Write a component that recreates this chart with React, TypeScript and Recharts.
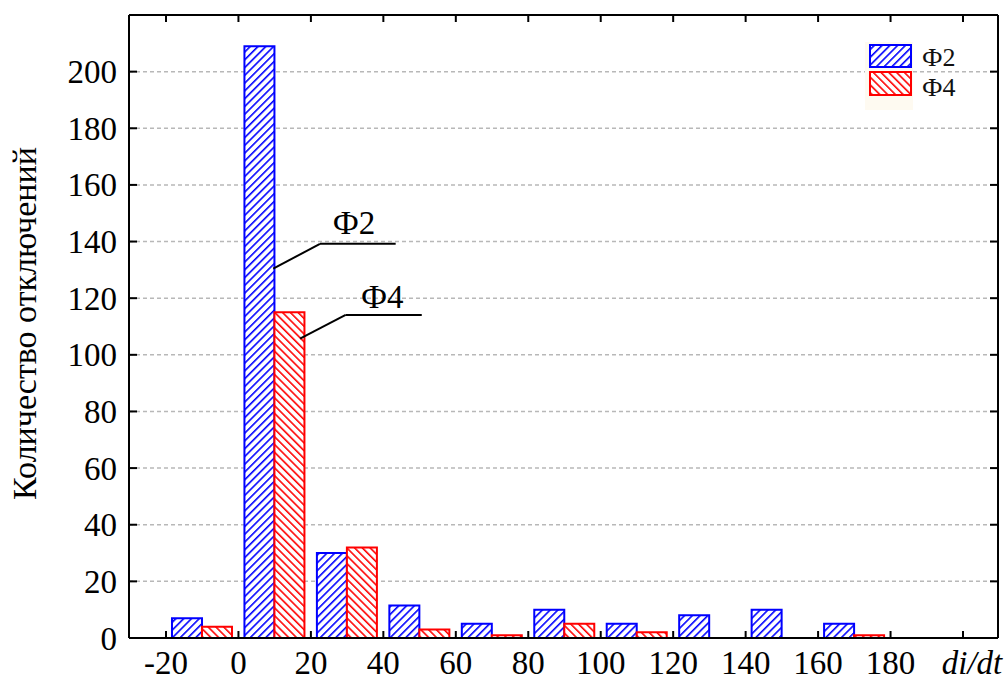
import {
  BarChart,
  Bar,
  XAxis,
  YAxis,
  CartesianGrid,
  Legend,
  ReferenceLine,
  ReferenceDot,
} from 'recharts'

// lower edge of each di/dt bin, bins are 20 wide
const binStarts = [-20, 0, 20, 40, 60, 80, 100, 120, 140, 160, 180]
const f2Values = [7, 209, 30, 11.5, 5, 10, 5, 8, 10, 5, 0]
const f4Values = [4, 115, 32, 3, 1, 5, 2, 0, 0, 1, 0]
const xTicks = [-20, 0, 20, 40, 60, 80, 100, 120, 140, 160, 180, 200]
const yTicks = [0, 20, 40, 60, 80, 100, 120, 140, 160, 180, 200]

// callouts in data units: text anchor, elbow of leader, end of shelf, point on bar
const callouts = [
  { name: 'Ф2', text: [26, 142.5], elbow: [22.5, 139.2], shelf: 43.4, tip: [9.6, 130.4] },
  { name: 'Ф4', text: [33.8, 116.7], elbow: [29.6, 114.1], shelf: 50.6, tip: [17, 105.7] },
]

const FONT = '"Liberation Serif", "Times New Roman", serif'
const BLUE = '#0000ff'
const RED = '#ff0000'
const X_DOMAIN = [-30.21, 209.66]

const data = binStarts.map((start, i) => ({ mid: start + 10, f2: f2Values[i], f4: f4Values[i] }))

const LeftTick = ({ x, y, payload }: any) => (
  <g>
    <line x1={x} x2={x + 8} y1={y} y2={y} stroke="#000" strokeWidth={2} />
    <text x={x - 12} y={y} dy="0.35em" textAnchor="end" fontSize={33} fontFamily={FONT} fill="#000">
      {payload.value}
    </text>
  </g>
)

const RightTick = ({ x, y }: any) => (
  <line x1={x - 8} x2={x} y1={y} y2={y} stroke="#000" strokeWidth={2} />
)

const TopTick = ({ x, y }: any) => (
  <line x1={x} x2={x} y1={y} y2={y + 7} stroke="#000" strokeWidth={2} />
)

const BottomTick = ({ x, y, payload }: any) => {
  const last = payload.value === 200
  return (
    <g>
      <line x1={x} x2={x} y1={y - 7} y2={y} stroke="#000" strokeWidth={2} />
      <text
        x={last ? x + 9 : x}
        y={y + 36}
        textAnchor="middle"
        fontSize={33}
        fontStyle={last ? 'italic' : 'normal'}
        fontFamily={FONT}
        fill="#000"
      >
        {last ? 'di/dt' : payload.value}
      </text>
    </g>
  )
}

const renderLegend = () => (
  <svg width={120} height={75}>
    <rect x={2} y={2} width={48} height={68} fill="#fefaf1" />
    <rect x={7} y={5} width={41} height={22} fill="url(#hatchBlue)" stroke={BLUE} strokeWidth={2} />
    <rect x={7} y={32} width={41} height={23} fill="url(#hatchRed)" stroke={RED} strokeWidth={2} />
    <text x={59} y={26} fontSize={26} fontFamily={FONT} fill="#111">Ф2</text>
    <text x={59} y={56} fontSize={26} fontFamily={FONT} fill="#111">Ф4</text>
  </svg>
)

export default function App() {
  return (
    <>
      <style>{'body { margin: 0; }'}</style>
      <BarChart
        width={1006}
        height={682}
        data={data}
        margin={{ top: 8, right: 0, bottom: 0, left: 0 }}
        barSize={30}
        barGap={0}
      >
        <defs>
          <pattern id="hatchBlue" patternUnits="userSpaceOnUse" width={5.5} height={5.5} patternTransform="rotate(45)">
            <rect width={5.5} height={5.5} fill="#fff" />
            <line x1={0} y1={0} x2={0} y2={5.5} stroke={BLUE} strokeWidth={3.2} />
          </pattern>
          <pattern id="hatchRed" patternUnits="userSpaceOnUse" width={5.5} height={5.5} patternTransform="rotate(-45)">
            <rect width={5.5} height={5.5} fill="#fff" />
            <line x1={0} y1={0} x2={0} y2={5.5} stroke={RED} strokeWidth={3.2} />
          </pattern>
        </defs>
        <CartesianGrid
          xAxisId="num"
          yAxisId="left"
          vertical={false}
          stroke="#b8b8b8"
          strokeDasharray="4 3"
          strokeWidth={1.5}
        />
        <XAxis
          xAxisId="num"
          dataKey="mid"
          type="number"
          domain={X_DOMAIN}
          allowDataOverflow
          ticks={xTicks}
          interval={0}
          height={44}
          tickSize={0}
          tickMargin={0}
          tickLine={false}
          axisLine={{ stroke: '#000', strokeWidth: 2 }}
          tick={<BottomTick />}
        />
        <XAxis
          xAxisId="top"
          dataKey="mid"
          orientation="top"
          type="number"
          domain={X_DOMAIN}
          allowDataOverflow
          ticks={xTicks}
          interval={0}
          height={7}
          tickSize={0}
          tickMargin={0}
          tickLine={false}
          axisLine={{ stroke: '#000', strokeWidth: 2 }}
          tick={<TopTick />}
        />
        <YAxis
          yAxisId="left"
          domain={[0, 220]}
          allowDataOverflow
          ticks={yTicks}
          interval={0}
          width={129}
          tickSize={0}
          tickMargin={0}
          tickLine={false}
          axisLine={{ stroke: '#000', strokeWidth: 2 }}
          tick={<LeftTick />}
          label={{
            content: ({ viewBox }: any) => {
              const cx = viewBox.x + 36
              const cy = viewBox.y + viewBox.height / 2 - 3
              return (
                <text
                  x={cx}
                  y={cy}
                  transform={`rotate(-90, ${cx}, ${cy})`}
                  textAnchor="middle"
                  fontSize={34}
                  fontFamily={FONT}
                  fill="#000"
                >
                  Количество отключений
                </text>
              )
            },
          }}
        />
        <YAxis
          yAxisId="right"
          dataKey="f2"
          orientation="right"
          domain={[0, 220]}
          allowDataOverflow
          ticks={yTicks}
          interval={0}
          width={8}
          tickSize={0}
          tickMargin={0}
          tickLine={false}
          axisLine={{ stroke: '#000', strokeWidth: 2 }}
          tick={<RightTick />}
        />
        <Bar
          xAxisId="num"
          yAxisId="left"
          dataKey="f2"
          name="Ф2"
          fill="url(#hatchBlue)"
          stroke={BLUE}
          strokeWidth={2}
          isAnimationActive={false}
        />
        <Bar
          xAxisId="num"
          yAxisId="left"
          dataKey="f4"
          name="Ф4"
          fill="url(#hatchRed)"
          stroke={RED}
          strokeWidth={2}
          isAnimationActive={false}
        />
        {callouts.map((c) => (
          <ReferenceLine
            key={c.name + 'shelf'}
            xAxisId="num"
            yAxisId="left"
            segment={[
              { x: c.elbow[0], y: c.elbow[1] },
              { x: c.shelf, y: c.elbow[1] },
            ]}
            stroke="#000"
            strokeWidth={2}
          />
        ))}
        {callouts.map((c) => (
          <ReferenceLine
            key={c.name + 'leg'}
            xAxisId="num"
            yAxisId="left"
            segment={[
              { x: c.elbow[0], y: c.elbow[1] },
              { x: c.tip[0], y: c.tip[1] },
            ]}
            stroke="#000"
            strokeWidth={2}
          />
        ))}
        {callouts.map((c) => (
          <ReferenceDot
            key={c.name + 'text'}
            xAxisId="num"
            yAxisId="left"
            x={c.text[0]}
            y={c.text[1]}
            shape={(p: any) => (
              <text x={p.cx} y={p.cy} fontSize={33} fontFamily={FONT} fill="#000">
                {c.name}
              </text>
            )}
          />
        ))}
        <Legend
          layout="horizontal"
          verticalAlign="middle"
          align="center"
          content={renderLegend}
          wrapperStyle={{ left: 863, top: 40, width: 120, height: 75 }}
        />
      </BarChart>
    </>
  )
}
